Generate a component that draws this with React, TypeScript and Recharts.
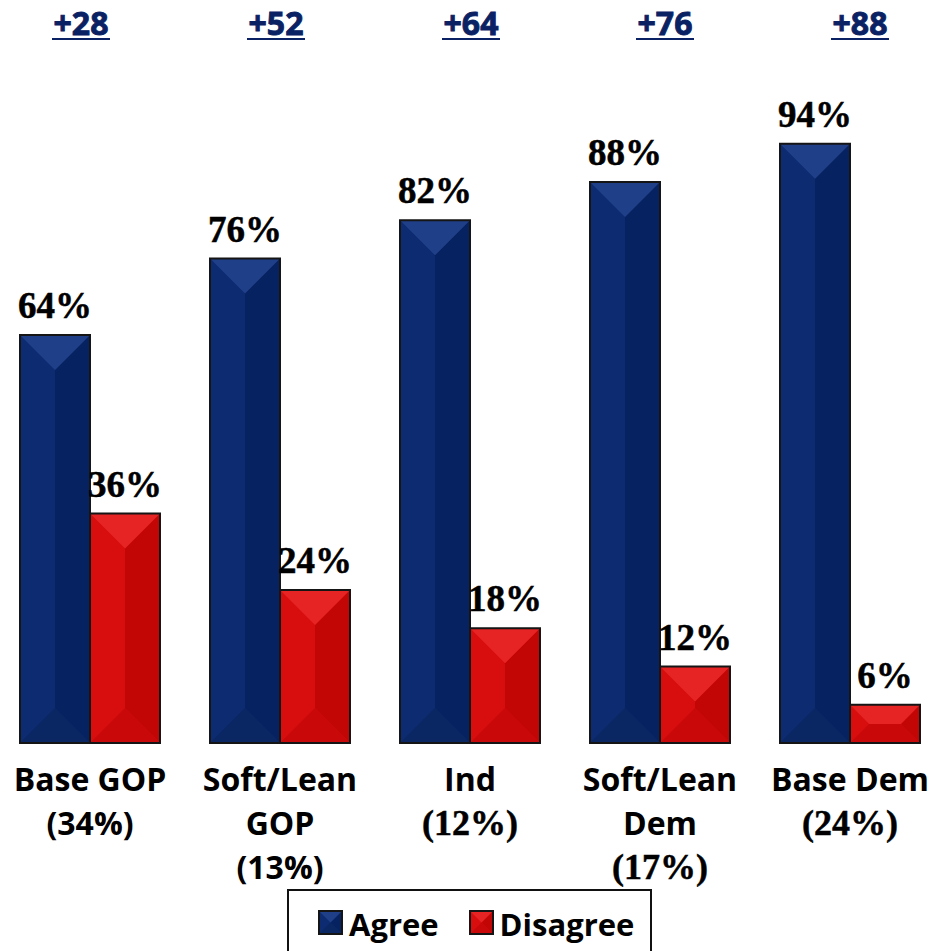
import { BarChart, Bar, XAxis, YAxis, Legend, LabelList } from 'recharts'

const categories = ['Base GOP\n(34%)', 'Soft/Lean\nGOP\n(13%)', 'Ind\n(12%)', 'Soft/Lean\nDem\n(17%)', 'Base Dem\n(24%)']
// share line is set in a serif face for the last three groups in the source
const serifShare = [false, false, true, true, true]
const agree = [64, 76, 82, 88, 94]
const disagree = [36, 24, 18, 12, 6]
const netMargins = ['+28', '+52', '+64', '+76', '+88']

const data = categories.map((name, i) => ({
  name,
  margin: netMargins[i],
  agree: agree[i],
  disagree: disagree[i],
}))

const BLUE = { body: '#0b2a6e', top: '#203f89', left: '#0c2b70', right: '#072260', bottom: '#0a2763' }
const RED = { body: '#d60d0d', top: '#e62424', left: '#d80e0e', right: '#c20505', bottom: '#c90909' }
const HEADER_COLOR = '#0a2263'
const SANS = '"Open Sans", sans-serif'
const SERIF = '"Liberation Serif", "Times New Roman", serif'
const HEADER_SHIFT = [-9, -4, 1, 5, 10]

type Palette = typeof BLUE

function bevel(x: number, y: number, w: number, h: number, p: Palette) {
  const d = Math.min(w / 2, h / 2)
  const pts = (arr: number[][]) => arr.map((a) => a.join(',')).join(' ')
  return (
    <g>
      <rect x={x} y={y} width={w} height={h} fill={p.body} />
      <polygon points={pts([[x, y], [x + d, y + d], [x + d, y + h - d], [x, y + h]])} fill={p.left} />
      <polygon points={pts([[x + w, y], [x + w - d, y + d], [x + w - d, y + h - d], [x + w, y + h]])} fill={p.right} />
      <polygon points={pts([[x, y + h], [x + w, y + h], [x + w - d, y + h - d], [x + d, y + h - d]])} fill={p.bottom} />
      <polygon points={pts([[x, y], [x + w, y], [x + w - d, y + d], [x + d, y + d]])} fill={p.top} />
      <rect x={x} y={y} width={w} height={h} fill="none" stroke="#151515" strokeWidth={2} />
    </g>
  )
}

function makeShape(p: Palette) {
  return (props: any) => {
    const { x, y, width, height } = props
    if (!height || height <= 0) return <g />
    return bevel(x, y, width, height, p)
  }
}

function ValueLabel(props: any) {
  const { x, y, width, value } = props
  return (
    <text
      x={x + width / 2}
      y={y - 17}
      textAnchor="middle"
      fontFamily={SERIF}
      fontWeight="bold"
      fontSize={37}
      fill="#000"
      stroke="#000"
      strokeWidth={0.5}
    >
      {value}%
    </text>
  )
}

function CategoryTick(props: any) {
  const { x, y, payload, index } = props
  const lines = String(payload.value).split('\n')
  return (
    <g>
      {lines.map((line, i) => {
        const isShare = i === lines.length - 1 && serifShare[index]
        return (
          <text
            key={i}
            x={x}
            y={y + 40 + i * 44}
            textAnchor="middle"
            fontFamily={isShare ? SERIF : SANS}
            fontWeight="bold"
            fontSize={isShare ? 36 : 32}
            fill="#000"
            stroke={isShare ? '#000' : 'none'}
            strokeWidth={0.5}
          >
            {line}
          </text>
        )
      })}
    </g>
  )
}

function HeaderTick(props: any) {
  const { x, payload, index } = props
  const cx = x + HEADER_SHIFT[index]
  return (
    <g>
      <text
        x={cx}
        y={35}
        textAnchor="middle"
        fontFamily={SANS}
        fontWeight="bold"
        fontSize={32}
        fill={HEADER_COLOR}
        stroke={HEADER_COLOR}
        strokeWidth={0.9}
      >
        {payload.value}
      </text>
      <line x1={cx - 29} x2={cx + 29} y1={39} y2={39} stroke={HEADER_COLOR} strokeWidth={2} />
    </g>
  )
}

function LegendSwatch({ p }: { p: Palette }) {
  return (
    <svg width={25} height={25} style={{ display: 'block' }}>
      {bevel(1, 1, 23, 23, p)}
    </svg>
  )
}

function LegendBox() {
  return (
    <div
      style={{
        boxSizing: 'border-box',
        width: 365,
        height: 80,
        border: '2px solid #111',
        background: '#fff',
        display: 'flex',
        alignItems: 'flex-start',
        paddingTop: 19,
        paddingLeft: 29,
        fontFamily: SANS,
        fontWeight: 'bold',
        fontSize: 31,
        color: '#000',
        lineHeight: '28px',
      }}
    >
      <LegendSwatch p={BLUE} />
      <span style={{ marginLeft: 6, marginRight: 30 }}>Agree</span>
      <LegendSwatch p={RED} />
      <span style={{ marginLeft: 6 }}>Disagree</span>
    </div>
  )
}

export default function App() {
  return (
    <div style={{ position: 'absolute', left: 0, top: 0, width: 929, height: 951, overflow: 'hidden', background: '#fff' }}>
      <div style={{ position: 'absolute', left: -5, top: 0 }}>
        <BarChart
          width={950}
          height={951}
          data={data}
          margin={{ top: 45.5, right: 0, bottom: 88, left: 0 }}
          barCategoryGap={25}
          barGap={0}
        >
          <XAxis
            dataKey="name"
            axisLine={false}
            tickLine={false}
            height={120}
            interval={0}
            tick={<CategoryTick />}
          />
          <XAxis
            xAxisId="top"
            dataKey="margin"
            orientation="top"
            axisLine={false}
            tickLine={false}
            height={60}
            interval={0}
            tick={<HeaderTick />}
          />
          <YAxis hide domain={[0, 100]} width={0} />
          <Legend
            layout="horizontal"
            verticalAlign="middle"
            content={() => <LegendBox />}
            wrapperStyle={{ position: 'absolute', left: 292, top: 889, width: 365, height: 80 }}
          />
          <Bar dataKey="agree" name="Agree" fill={BLUE.body} shape={makeShape(BLUE)} isAnimationActive={false}>
            <LabelList dataKey="agree" content={<ValueLabel />} />
          </Bar>
          <Bar dataKey="disagree" name="Disagree" fill={RED.body} shape={makeShape(RED)} isAnimationActive={false}>
            <LabelList dataKey="disagree" content={<ValueLabel />} />
          </Bar>
        </BarChart>
      </div>
    </div>
  )
}
